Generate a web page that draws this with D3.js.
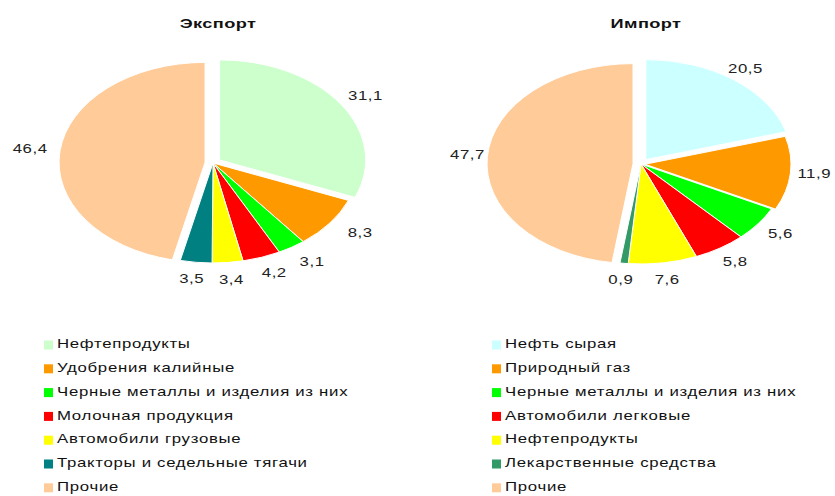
<!DOCTYPE html>
<html>
<head>
<meta charset="utf-8">
<script src="https://cdn.jsdelivr.net/npm/d3@7"></script>
<style>
    body { margin: 0; background: #fff; }
    svg { display: block; font-family: "Liberation Sans", Arial, sans-serif; }
</style>
</head>
<body>
<div id="chart"></div>
<script>
// data
var exportTitle = "Экспорт";
var exportCategories = ["Нефтепродукты", "Удобрения калийные", "Черные металлы и изделия из них",
    "Молочная продукция", "Автомобили грузовые", "Тракторы и седельные тягачи", "Прочие"];
var exportValues = [31.1, 8.3, 3.1, 4.2, 3.4, 3.5, 46.4];
var exportColors = ["#ccffcc", "#ff9900", "#00ff00", "#ff0000", "#ffff00", "#008080", "#ffcc99"];
var exportExplode = [8, 0, 0, 0, 0, 0, 8];

var importTitle = "Импорт";
var importCategories = ["Нефть сырая", "Природный газ", "Черные металлы и изделия из них",
    "Автомобили легковые", "Нефтепродукты", "Лекарственные средства", "Прочие"];
var importValues = [20.5, 11.9, 5.6, 5.8, 7.6, 0.9, 47.7];
var importColors = ["#ccffff", "#ff9900", "#00ff00", "#ff0000", "#ffff00", "#339966", "#ffcc99"];
var importExplode = [8, 4, 0, 0, 0, 0, 8];

var width = 835, height = 496;
// the original picture is stretched sideways, text too
var stretch = 1.4;

var svg = d3.select("#chart")
    .append("svg")
    .attr("width", width)
    .attr("height", height);

function wideText(sel, x, y) {
    return sel.attr("transform", "translate(" + x + "," + y + ") scale(" + stretch + ",1)");
}

// one pie with its title, value labels and legend
function drawPie(opts) {
    var rx = 146, ry = 100;
    var pie = d3.pie().sort(null).value(function(d) { return d; });
    var arcs = pie(opts.values);
    var arc = d3.arc().innerRadius(0).outerRadius(rx);

    // title
    svg.append("text")
        .call(wideText, opts.cx + 5, 28)
        .attr("text-anchor", "middle")
        .attr("font-size", "13px")
        .attr("font-weight", "bold")
        .attr("letter-spacing", "0.3px")
        .attr("fill", "#111")
        .text(opts.title);

    // flattened pie: draw as a circle then squash vertically
    var g = svg.append("g")
        .attr("transform", "translate(" + opts.cx + "," + opts.cy + ") scale(1," + (ry / rx) + ")");

    g.selectAll("path")
        .data(arcs)
        .enter()
        .append("path")
        .attr("d", arc)
        .attr("transform", function(d, i) {
            var mid = (d.startAngle + d.endAngle) / 2;
            var e = opts.explode[i];
            return "translate(" + (Math.sin(mid) * e) + "," + (-Math.cos(mid) * e) + ")";
        })
        .attr("fill", function(d, i) { return opts.colors[i]; })
        .attr("stroke", "#fff")
        .attr("stroke-width", 1)
        .attr("vector-effect", "non-scaling-stroke");

    // value labels outside the pie
    svg.append("g")
        .selectAll("text")
        .data(arcs)
        .enter()
        .append("text")
        .each(function(d) {
            var mid = (d.startAngle + d.endAngle) / 2;
            d3.select(this).call(wideText,
                opts.cx + Math.sin(mid) * (rx + opts.labelPad),
                opts.cy - Math.cos(mid) * (ry + 18));
        })
        .attr("text-anchor", "middle")
        .attr("dominant-baseline", "middle")
        .attr("font-size", "12px")
        .attr("letter-spacing", "0.4px")
        .attr("fill", "#222")
        .text(function(d) { return d.value.toFixed(1).replace(".", ","); });

    // legend
    var legend = svg.append("g")
        .selectAll("g")
        .data(opts.categories)
        .enter()
        .append("g")
        .attr("transform", function(d, i) {
            return "translate(" + opts.legendX + "," + (345 + i * 23.8) + ")";
        });

    legend.append("rect")
        .attr("x", 0)
        .attr("y", -4.5)
        .attr("width", 9)
        .attr("height", 9)
        .attr("fill", function(d, i) { return opts.colors[i]; });

    legend.append("text")
        .call(wideText, 13, 0)
        .attr("dominant-baseline", "middle")
        .attr("font-size", "12px")
        .attr("letter-spacing", "0.5px")
        .attr("fill", "#111")
        .text(function(d) { return d; });
}

drawPie({
    title: exportTitle, categories: exportCategories, values: exportValues,
    colors: exportColors, explode: exportExplode, cx: 213, cy: 163, legendX: 44, labelPad: 38
});
drawPie({
    title: importTitle, categories: importCategories, values: importValues,
    colors: importColors, explode: importExplode, cx: 641, cy: 164, legendX: 492, labelPad: 28
});
</script>
</body>
</html>
